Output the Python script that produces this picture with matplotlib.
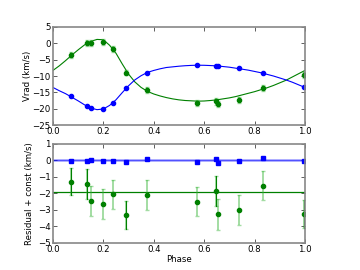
import matplotlib
matplotlib.use("Agg")
import matplotlib.pyplot as plt

# ---- data ----
phase = [0.071, 0.134, 0.153, 0.197, 0.237, 0.290, 0.373, 0.570, 0.646, 0.655, 0.738, 0.832, 0.997]
rv_blue = [-16.2, -19.2, -19.9, -20.2, -18.2, -13.8, -9.0, -6.7, -6.8, -7.0, -7.7, -9.0, -13.3]
rv_green = [-3.6, 0.1, 0.2, 0.5, -1.8, -9.0, -14.3, -18.3, -17.8, -18.7, -17.4, -13.8, -9.6]
rv_green_err = [0.85, 0.9, 0.9, 0.93, 0.87, 0.83, 0.9, 0.88, 0.93, 0.93, 0.9, 0.9, 0.87]

res_blue = [-0.02, -0.02, 0.02, -0.02, -0.02, -0.08, 0.10, -0.08, 0.10, -0.16, -0.02, 0.16, -0.04]
res_green = [-1.28, -1.42, -2.46, -2.64, -2.05, -3.31, -2.11, -2.50, -1.85, -3.27, -3.00, -1.52, -3.25]
res_green_err = [0.83, 0.90, 0.90, 0.93, 0.87, 0.83, 0.90, 0.88, 0.93, 0.93, 0.90, 0.90, 0.87]
res_blue_const = 0.0
res_green_const = -1.93

model_phase = [0.000, 0.025, 0.050, 0.075, 0.100, 0.125, 0.150, 0.175, 0.200, 0.225,
               0.250, 0.275, 0.300, 0.325, 0.350, 0.375, 0.400, 0.425, 0.450, 0.475,
               0.500, 0.525, 0.550, 0.575, 0.600, 0.625, 0.650, 0.675, 0.700, 0.725,
               0.750, 0.775, 0.800, 0.825, 0.850, 0.875, 0.900, 0.925, 0.950, 0.975, 1.000]
model_blue = [-13.5, -14.5, -15.4, -16.5, -17.6, -18.8, -19.8, -20.3, -20.1, -19.0,
              -17.3, -15.1, -13.0, -11.2, -9.9, -8.9, -8.3, -7.8, -7.4, -7.2,
              -7.0, -6.85, -6.75, -6.7, -6.72, -6.8, -6.9, -7.1, -7.3, -7.6,
              -7.9, -8.2, -8.6, -9.0, -9.5, -10.0, -10.6, -11.2, -11.9, -12.7, -13.5]
model_green = [-8.3, -6.9, -5.3, -3.6, -2.0, -0.5, 0.6, 1.2, 1.1, -0.6,
               -3.0, -6.3, -9.4, -11.8, -13.5, -14.7, -15.5, -16.1, -16.6, -17.0,
               -17.3, -17.5, -17.6, -17.7, -17.65, -17.5, -17.3, -17.0, -16.7, -16.3,
               -15.8, -15.3, -14.8, -14.2, -13.6, -12.9, -12.1, -11.3, -10.3, -9.3, -8.3]

# style: which residual error bars are drawn dark
dark_bar = [True, True, False, False, False, True, False, False, True, False, False, False, True]

plt.rcParams['font.family'] = ['DejaVu Sans']
plt.rcParams['font.size'] = 6.2

fig = plt.figure(figsize=(3.6, 2.7), dpi=100)
ax1 = fig.add_axes([0.147, 0.537, 0.70, 0.363])
ax2 = fig.add_axes([0.147, 0.100, 0.70, 0.367])

BLUE = (0, 0, 1)
GREEN = (0, 0.5, 0)

def style(ax):
    for s in ax.spines.values():
        s.set_color('#888888')
        s.set_linewidth(1.2)
    ax.tick_params(direction='in', top=True, right=True, length=3, width=0.6,
                   color='#444444', labelsize=6.2, pad=1.5)

# top panel
ax1.plot(model_phase, model_green, color=GREEN, lw=0.8)
ax1.plot(model_phase, model_blue, color=BLUE, lw=0.8)
ax1.errorbar(phase, rv_green, yerr=rv_green_err, fmt='none', ecolor=(0.2, 0.7, 0.2),
             alpha=0.45, elinewidth=1.4, capsize=1.5, capthick=1.0)
ax1.plot(phase, rv_green, 'o', color=GREEN, mec=GREEN, ms=3.0)
ax1.plot(phase, rv_blue, 'o', color=BLUE, mec=BLUE, ms=3.0)
ax1.set_xlim(0, 1)
ax1.set_ylim(-25, 5)
ax1.set_yticks([5, 0, -5, -10, -15, -20, -25])
ax1.set_xticks([0.0, 0.2, 0.4, 0.6, 0.8, 1.0])
ax1.set_ylabel('Vrad (km/s)', labelpad=0.5)
style(ax1)

# bottom panel
ax2.axhline(res_blue_const, color=BLUE, lw=2.0, alpha=0.35)
ax2.axhline(res_blue_const, color=BLUE, lw=0.6, alpha=0.6)
ax2.axhline(res_green_const, color=GREEN, lw=0.9)
ax2.errorbar(phase, res_green, yerr=res_green_err, fmt='none', ecolor=(0.2, 0.7, 0.2),
             alpha=0.45, elinewidth=1.4, capsize=1.5, capthick=1.0)
for p, r, e, d in zip(phase, res_green, res_green_err, dark_bar):
    if d:
        ax2.plot([p, p], [r - e, r + e], color=GREEN, lw=0.8)
ax2.plot(phase, res_green, 'o', color=GREEN, mec=GREEN, ms=3.0)
ax2.plot(phase, res_blue, 's', color=BLUE, mec=BLUE, ms=2.8)
ax2.set_xlim(0, 1)
ax2.set_ylim(-5, 1)
ax2.set_yticks([1, 0, -1, -2, -3, -4, -5])
ax2.set_xticks([0.0, 0.2, 0.4, 0.6, 0.8, 1.0])
ax2.set_ylabel('Residual + const (km/s)', labelpad=3)
ax2.set_xlabel('Phase', labelpad=1)
style(ax2)

fig.savefig('out.png', dpi=100)
